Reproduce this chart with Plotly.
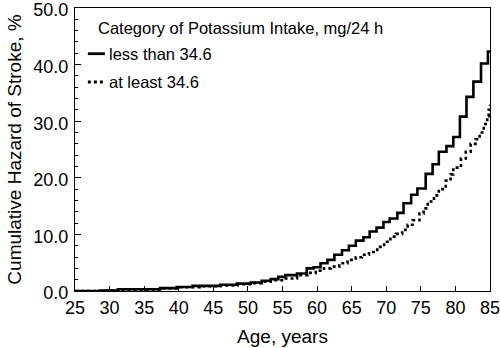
import plotly.graph_objects as go

# Step ages (years) and cumulative hazard of stroke (%) after each step
age_low = [25, 28.6, 31.2, 37.3, 39.7, 42.0, 46.0, 48.4, 50.4, 52.0, 53.3, 54.4,
           55.4, 57.1, 58.5, 59.5, 60.5, 61.5, 62.5, 63.6, 64.6, 65.6, 66.7, 67.6,
           68.6, 69.6, 70.5, 71.6, 72.5, 73.6, 74.5, 75.7, 76.7, 77.6, 78.7, 79.7,
           80.65, 81.6, 82.6, 83.7, 84.7, 85.0]
hazard_low = [0.0, 0.1, 0.3, 0.5, 0.7, 0.9, 1.1, 1.3, 1.5, 1.8, 2.1, 2.5,
              2.8, 3.1, 4.0, 4.2, 4.9, 5.5, 6.4, 7.2, 8.0, 8.9, 9.5, 10.5,
              11.2, 12.2, 12.8, 13.8, 15.5, 17.0, 18.1, 20.7, 22.4, 24.6, 25.6, 27.2,
              30.8, 34.3, 37.0, 40.2, 42.3, 42.3]

age_high = [25, 29.0, 31.5, 37.5, 40.0, 43.0, 46.0, 48.5, 50.5, 52.0, 53.3, 55.2,
            57.1, 58.6, 59.8, 61.0, 62.0, 63.2, 64.4, 65.6, 66.5, 67.5, 68.7, 69.7,
            70.6, 71.4, 72.3, 73.1, 73.8, 74.8, 75.4, 76.0, 76.9, 77.6, 78.6, 79.3,
            79.7, 80.8, 81.5, 82.2, 82.9, 83.5, 84.1, 84.6, 84.8, 85.0]
hazard_high = [0.0, 0.1, 0.25, 0.45, 0.65, 0.85, 1.0, 1.2, 1.4, 1.65, 1.9, 2.2,
               2.8, 3.2, 3.6, 4.0, 4.3, 4.9, 5.5, 5.95, 6.4, 6.9, 7.8, 8.7,
               9.6, 10.1, 10.8, 11.7, 12.5, 13.7, 14.6, 15.8, 16.9, 18.0, 19.5, 20.6,
               21.8, 23.4, 24.6, 26.0, 26.8, 28.0, 29.5, 30.9, 32.0, 32.9]

x_ticks = [25, 30, 35, 40, 45, 50, 55, 60, 65, 70, 75, 80, 85]
y_ticks = [0, 10, 20, 30, 40, 50]

legend_title = "Category of Potassium Intake, mg/24 h"
label_low = "less than 34.6"
label_high = "at least 34.6"

FONT = "Liberation Sans, Arial, sans-serif"

fig = go.Figure()
fig.add_trace(go.Scatter(x=age_low, y=hazard_low, mode="lines", name=label_low,
                         line=dict(color="black", width=2.6, shape="hv")))
fig.add_trace(go.Scatter(x=age_high, y=hazard_high, mode="lines", name=label_high,
                         line=dict(color="black", width=2.6, shape="hv", dash="dot")))

axis_common = dict(showgrid=False, zeroline=False, showline=True, linecolor="black",
                   linewidth=1.4, mirror=True, ticks="inside", tickcolor="black",
                   tickwidth=1, automargin=False, ticklabeloverflow="allow",
                   tickfont=dict(family=FONT, size=18, color="black"))

fig.update_xaxes(range=[25, 85], tickvals=x_ticks, ticklen=5, ticklabelstandoff=0,
                 title=dict(text="Age, years", font=dict(family=FONT, size=19, color="black"),
                            standoff=12),
                 **axis_common)
fig.update_yaxes(range=[0, 50], tickvals=y_ticks, tickformat=".1f", ticklen=6,
                 ticklabelstandoff=2, ticklabelshift=2,
                 minor=dict(dtick=2, ticks="inside", ticklen=3, tickcolor="black", tickwidth=1),
                 title=dict(text="Cumulative Hazard of Stroke, %",
                            font=dict(family=FONT, size=19, color="black"), standoff=6),
                 **axis_common)

# Hand-drawn key inside the plot area
fig.add_annotation(x=0.05, y=0.929, xref="paper", yref="paper", text=legend_title,
                   showarrow=False, xanchor="left", yanchor="middle",
                   font=dict(family=FONT, size=16.5, color="black"))
key_rows = [(label_low, 0.8385, "solid"), (label_high, 0.7385, "dot")]
for text, ypos, dash in key_rows:
    fig.add_shape(type="line", xref="paper", yref="paper", x0=0.031, x1=0.072,
                  y0=ypos, y1=ypos, line=dict(color="black", width=2.8, dash=dash))
    fig.add_annotation(x=0.078, y=ypos, xref="paper", yref="paper", text=text,
                       showarrow=False, xanchor="left", yanchor="middle",
                       font=dict(family=FONT, size=16.5, color="black"))

fig.update_layout(width=500, height=348, showlegend=False,
                  margin=dict(l=75, r=10, t=8, b=57),
                  plot_bgcolor="white", paper_bgcolor="white")

fig.write_html("out.html")
